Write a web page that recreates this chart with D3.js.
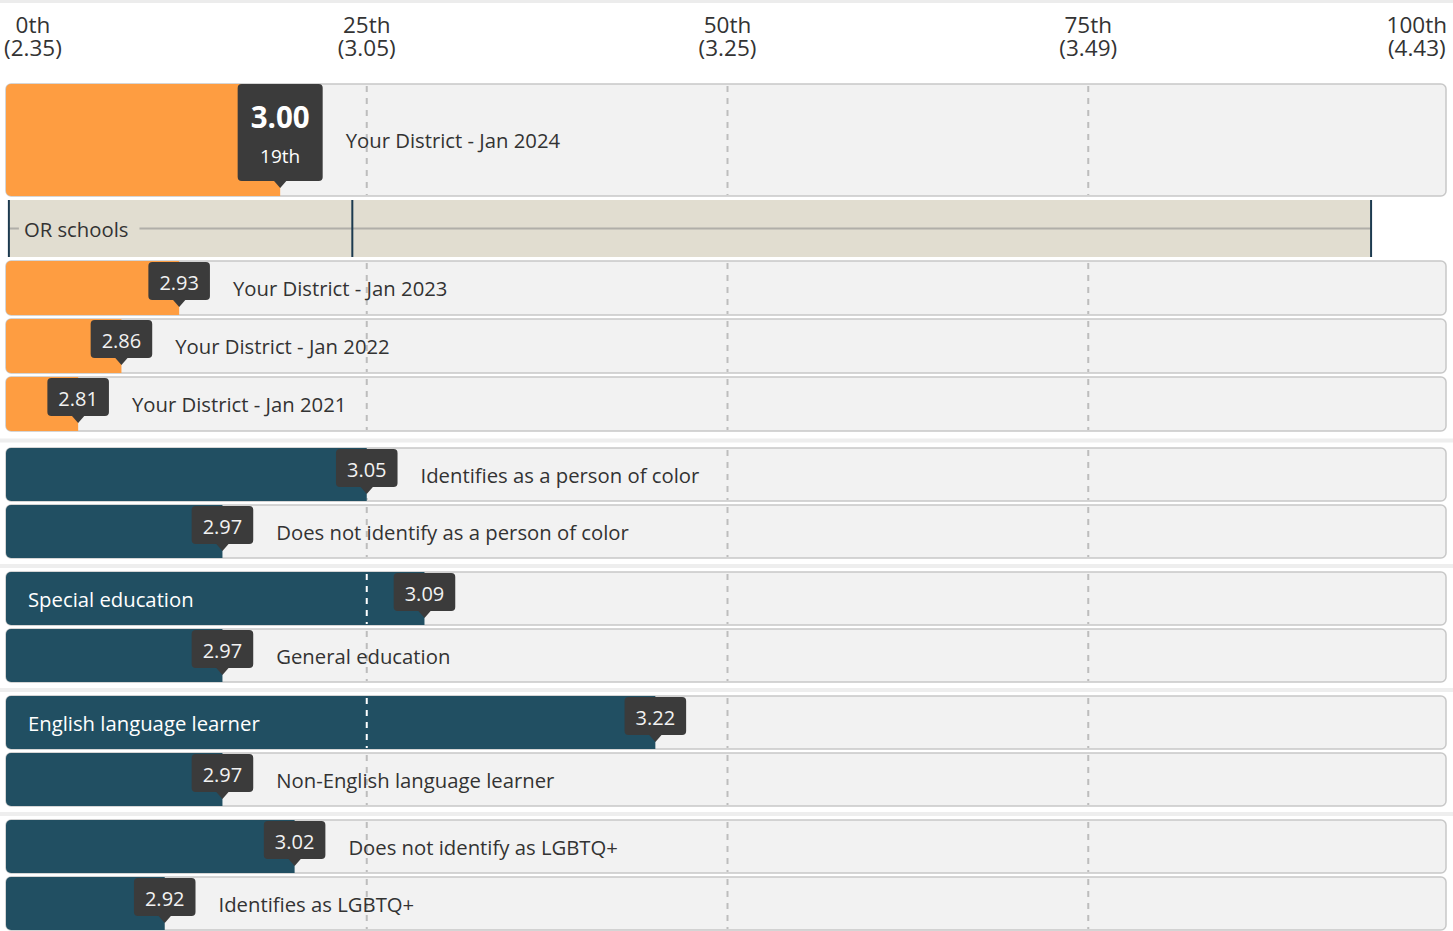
<!DOCTYPE html>
<head>
  <meta charset="utf-8">
  <script src="https://d3js.org/d3.v7.min.js"></script>
  <style>
    body { margin: 0; background: #fff; }
    text { font-family: "Open Sans", sans-serif; }
  </style>
</head>
<body>
<script>

// percentile ticks on top
var tickPercentiles = [0, 25, 50, 75, 100];
var tickLabels = ["0th", "25th", "50th", "75th", "100th"];
var tickScores = ["(2.35)", "(3.05)", "(3.25)", "(3.49)", "(4.43)"];

// rows
var rowLabels = ["Your District - Jan 2024", "Your District - Jan 2023", "Your District - Jan 2022",
  "Your District - Jan 2021", "Identifies as a person of color", "Does not identify as a person of color",
  "Special education", "General education", "English language learner", "Non-English language learner",
  "Does not identify as LGBTQ+", "Identifies as LGBTQ+"];
var rowScores = [3.00, 2.93, 2.86, 2.81, 3.05, 2.97, 3.09, 2.97, 3.22, 2.97, 3.02, 2.92];
var rowPercentiles = [19, 12, 8, 5, 25, 15, 29, 15, 45, 15, 20, 11];
var rowGroups = [0, 0, 0, 0, 1, 1, 2, 2, 3, 3, 4, 4];

// OR schools band: low, middle, high percentile
var orSchools = [0.2, 24, 94.6];

var width = 1453, height = 931;
var left = 6, right = 1446;
var orange = "#fe9d41", teal = "#214f62", tipFill = "#3b3b3b";

var x = d3.scaleLinear().domain([0, 100]).range([6, 1449]);

var svg = d3.select("body").append("svg")
  .attr("width", width)
  .attr("height", height);

var defs = svg.append("defs");

svg.append("rect").attr("x", 0).attr("y", 0).attr("width", width).attr("height", 3).attr("fill", "#ececec");

// tick labels
tickPercentiles.forEach(function(p, i) {
  var g = svg.append("g");
  var t1 = g.append("text").attr("y", 33).attr("text-anchor", "middle")
    .attr("font-size", 22.5).attr("fill", "#333").text(tickLabels[i]);
  var t2 = g.append("text").attr("y", 56).attr("text-anchor", "middle")
    .attr("font-size", 22.5).attr("fill", "#333").text(tickScores[i]);
  var w = Math.max(t1.node().getComputedTextLength(), t2.node().getComputedTextLength());
  var cx = Math.max(4 + w / 2, Math.min(1447 - w / 2, x(p)));
  t1.attr("x", cx); t2.attr("x", cx);
});

// layout of rows
var layout = [], seps = [], band;
var y = 84;
rowLabels.forEach(function(lab, i) {
  if (i > 0 && rowGroups[i] !== rowGroups[i - 1]) {
    var gap = rowGroups[i] === 1 ? 13 : 10;
    seps.push(y + gap / 2 - 3);
    y += gap;
  }
  var h = i === 0 ? 112 : (rowGroups[i] === 0 ? 54 : 53);
  layout.push({ y: y, h: h });
  y += h + 4;
  if (i === 0) { band = { y: y, h: 57 }; y += 61; }
});

seps.forEach(function(s) {
  svg.append("rect").attr("x", 0).attr("y", s).attr("width", width).attr("height", 4).attr("fill", "#eeeeee");
});

var inner = [25, 50, 75];

rowLabels.forEach(function(lab, i) {
  var L = layout[i];
  var g = svg.append("g");
  var barEnd = x(rowPercentiles[i]);
  var color = rowGroups[i] === 0 ? orange : teal;

  defs.append("clipPath").attr("id", "clip" + i)
    .append("rect").attr("x", left).attr("y", L.y).attr("width", right - left).attr("height", L.h).attr("rx", 5);

  g.append("rect").attr("x", left).attr("y", L.y).attr("width", right - left).attr("height", L.h)
    .attr("rx", 5).attr("fill", "#f2f2f2").attr("stroke", "#c8c8c8").attr("stroke-width", 1.5);

  inner.forEach(function(p) {
    g.append("line").attr("x1", x(p)).attr("x2", x(p)).attr("y1", L.y + 2).attr("y2", L.y + L.h - 1)
      .attr("stroke", "#bdbdbd").attr("stroke-width", 2).attr("stroke-dasharray", "6,6");
  });

  g.append("rect").attr("clip-path", "url(#clip" + i + ")")
    .attr("x", left).attr("y", L.y).attr("width", barEnd - left).attr("height", L.h).attr("fill", color);

  inner.forEach(function(p) {
    if (p < rowPercentiles[i] - 1) {
      g.append("line").attr("x1", x(p)).attr("x2", x(p)).attr("y1", L.y + 2).attr("y2", L.y + L.h - 1)
        .attr("stroke", "#fff").attr("stroke-width", 2).attr("stroke-dasharray", "6,6");
    }
  });

  // tooltip
  var tip = g.append("g");
  var big = i === 0;
  var box = tip.append("rect").attr("fill", tipFill).attr("rx", 4);
  var valText = tip.append("text").attr("x", barEnd).attr("text-anchor", "middle")
    .attr("fill", "#fff").text(d3.format(".2f")(rowScores[i]));
  var tw, bh, by = L.y + (big ? 0 : 1);
  if (big) {
    valText.attr("y", L.y + 44).attr("font-size", 29.5).attr("font-weight", "bold");
    tip.append("text").attr("x", barEnd).attr("y", L.y + 79).attr("text-anchor", "middle")
      .attr("font-size", 19).attr("fill", "#fff").text(rowPercentiles[i] + "th");
    tw = valText.node().getComputedTextLength() + 26;
    bh = 97;
  } else {
    valText.attr("y", L.y + 21).attr("dominant-baseline", "central").attr("font-size", 20).attr("fill", "#f2f2f2");
    tw = valText.node().getComputedTextLength() + 22;
    bh = 38;
  }
  box.attr("x", barEnd - tw / 2).attr("y", by).attr("width", tw).attr("height", bh);
  tip.insert("path", "text")
    .attr("d", "M" + (barEnd - 7) + "," + (by + bh - 1) + "L" + barEnd + "," + (by + bh + 7) + "L" + (barEnd + 7) + "," + (by + bh - 1) + "Z")
    .attr("fill", tipFill);

  // label
  var lbl = g.append("text").attr("y", L.y + L.h / 2).attr("dominant-baseline", "central")
    .attr("font-size", 20.3).text(lab);
  var lw = lbl.node().getComputedTextLength();
  if (left + 22 + lw + 60 < barEnd - tw / 2) {
    lbl.attr("x", left + 22).attr("fill", "#fff");
  } else {
    lbl.attr("x", barEnd + tw / 2 + 23).attr("fill", "#333");
  }
});

// OR schools band
var bx0 = x(orSchools[0]), bx1 = x(orSchools[2]);
var bandG = svg.append("g");
bandG.append("rect").attr("x", bx0).attr("y", band.y).attr("width", bx1 - bx0).attr("height", band.h).attr("fill", "#e1ddd0");
bandG.append("line").attr("x1", bx0).attr("x2", bx1).attr("y1", band.y + band.h / 2).attr("y2", band.y + band.h / 2)
  .attr("stroke", "#b0aea8").attr("stroke-width", 2);
var orText = bandG.append("text").attr("x", bx0 + 15).attr("y", band.y + band.h / 2).attr("dominant-baseline", "central")
  .attr("font-size", 20.3).attr("fill", "#333").text("OR schools");
var ow = orText.node().getComputedTextLength();
bandG.insert("rect", "text").attr("x", bx0 + 10).attr("y", band.y + band.h / 2 - 3).attr("width", ow + 16).attr("height", 6).attr("fill", "#e1ddd0");
orSchools.forEach(function(p) {
  bandG.append("line").attr("x1", x(p)).attr("x2", x(p)).attr("y1", band.y).attr("y2", band.y + band.h)
    .attr("stroke", "#1c3a4f").attr("stroke-width", 2);
});

</script>
</body>
